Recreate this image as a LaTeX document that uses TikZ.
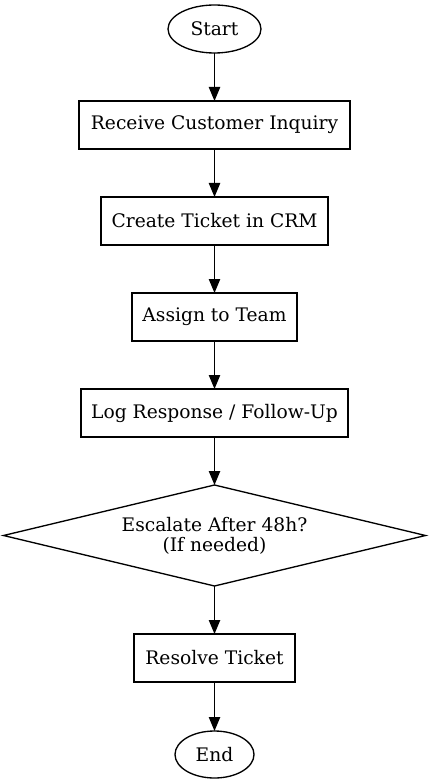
\documentclass[tikz,border=0pt]{standalone}
\usepackage{fontspec}
\setmainfont{DejaVu Serif}
\usetikzlibrary{shapes.geometric,arrows.meta}
\begin{document}
\begin{tikzpicture}[x=0.75pt,y=-0.75pt, line width=1pt,
  every node/.style={font=\fontsize{14}{15}\selectfont, inner sep=0pt, outer sep=0pt},
  term/.style={draw, ellipse, minimum height=36pt},
  procbox/.style={draw, rectangle, minimum height=36pt},
  decision/.style={draw, diamond, aspect=4.18, align=center},
  flow/.style={draw, -{Triangle[length=10.5pt,width=8.5pt]}}]
\useasboundingbox (0,0) rectangle (429,784);
\node[term, minimum width=69.75pt] (start) at (214.5,29) {Start};
\node[procbox, minimum width=203.25pt] (n1) at (214.5,125) {Receive Customer Inquiry};
\node[procbox, minimum width=170.25pt] (n2) at (214.5,221) {Create Ticket in CRM};
\node[procbox, minimum width=123.75pt] (n3) at (214.5,317) {Assign to Team};
\node[procbox, minimum width=200.25pt] (n4) at (214.5,413) {Log Response / Follow-Up};
\node[decision, minimum width=316.5pt, minimum height=75.75pt] (d) at (214.5,535.5) {Escalate After 48h?\\(If needed)};
\node[procbox, minimum width=120.75pt] (n5) at (214.5,658) {Resolve Ticket};
\node[term, minimum width=59.25pt, minimum height=35.25pt] (end) at (214.5,754.5) {End};
\path[flow] (start) -- (n1);
\path[flow] (n1) -- (n2);
\path[flow] (n2) -- (n3);
\path[flow] (n3) -- (n4);
\path[flow] (n4) -- (d);
\path[flow] (d) -- (n5);
\path[flow] (n5) -- (end);
\end{tikzpicture}
\end{document}
